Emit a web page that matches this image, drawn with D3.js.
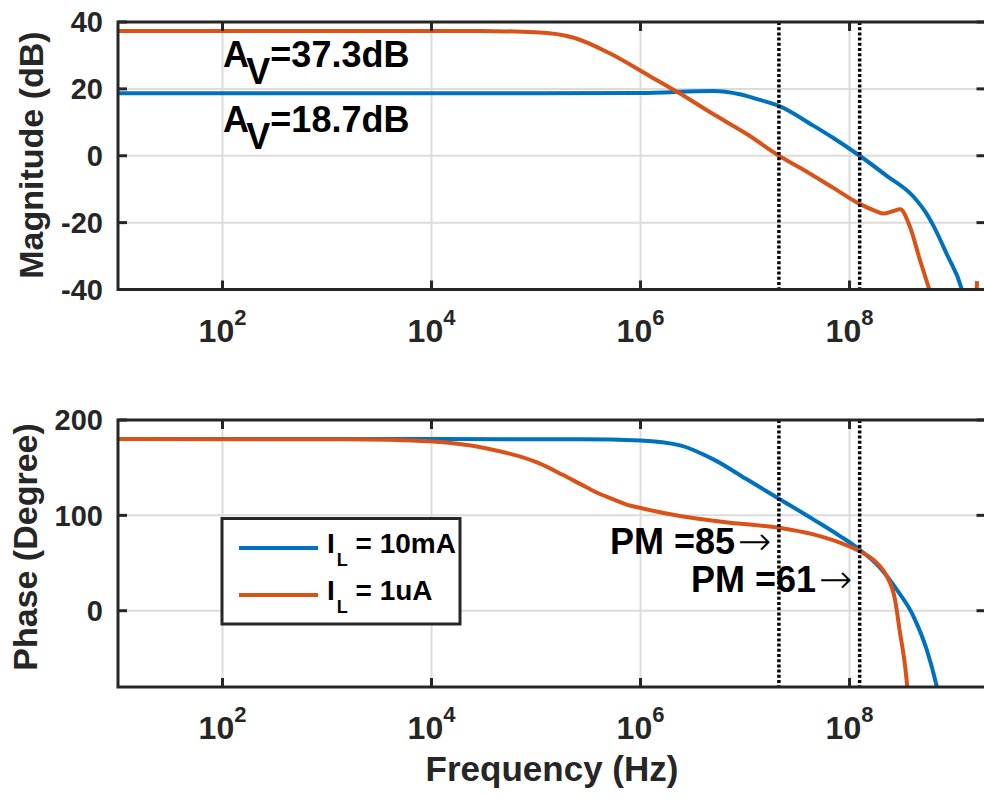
<!DOCTYPE html>
<html>
<head>
<meta charset="utf-8">
<script src="https://cdn.jsdelivr.net/npm/d3@7"></script>
<style>
  body { margin: 0; background: #fff; }
  text { font-family: Arial, "Liberation Sans", Helvetica, sans-serif; font-weight: bold; }
</style>
</head>
<body>
<div id="chart"></div>
<script>
// ---- data: [frequency (Hz), value] ----
var magBlue = [[10, 18.7], [1e3, 18.7], [1e5, 18.7], [1e6, 18.8], [4.94e6, 19.4], [8.95e6, 18.4],
  [1.39e7, 16.7], [2.11e7, 14.9], [4.5e7, 9.0], [7e7, 5.3], [1.25e8, 0], [2.27e8, -6.0],
  [4.08e8, -12.2], [5.47e8, -17.4], [6.34e8, -20.9], [8.51e8, -29.4], [1.19e9, -40.1], [1.5e9, -55]];
var magOrange = [[10, 37.3], [1e3, 37.3], [3e4, 37.3], [1e5, 36.9], [2.3e5, 35.3], [4.96e5, 30.8],
  [1.23e6, 23.8], [2.3e6, 18.9], [5e6, 12.4], [1.04e7, 6.5], [2.11e7, 0], [3.36e7, -3.6],
  [7e7, -9.6], [1.25e8, -14.4], [1.8e8, -16.6], [2.1e8, -17.3], [2.6e8, -16.6], [3.05e8, -16.0],
  [3.8e8, -21.4], [4.73e8, -31.3], [5.8e8, -40], [7e8, -48], [1.5e9, -60], [1.66e9, -37.5]];
var phaseBlue = [[10, 180], [1e4, 180], [2.64e5, 179.8], [1e6, 178.5], [2.39e6, 173.4],
  [4.98e6, 158.7], [1.04e7, 137.8], [2.11e7, 117.5], [4.5e7, 95.8], [8.1e7, 78.3],
  [1.24e8, 64.3], [1.96e8, 45], [2.82e8, 22.4], [4.08e8, -5.6], [5.47e8, -40.6], [6.82e8, -79], [7.5e8, -100]];
var phaseOrange = [[10, 180], [1.5e3, 179.8], [1.02e4, 177.4], [3.3e4, 170.4], [1.05e5, 155],
  [1.8e5, 142.5], [2.64e5, 133], [3.8e5, 124], [5.5e5, 116.8], [7.26e5, 111.6], [1.03e6, 107.5],
  [2.39e6, 99.3], [7.18e6, 92.3], [2.11e7, 87], [4.5e7, 80], [8.1e7, 71.3], [1.24e8, 62.6],
  [1.82e8, 50.3], [2.27e8, 36.4], [2.72e8, 12], [3.04e8, -23], [3.4e8, -58], [3.57e8, -80], [3.7e8, -100]];

var seriesLabels = [["I", "L", " = 10mA"], ["I", "L", " = 1uA"]];
var colors = ["#0072BD", "#D95319"];
var markerFreqs = [2.11e7, 1.25e8];
var xTickExp = [2, 4, 6, 8];
var magTicks = [40, 20, 0, -20, -40];
var phaseTicks = [200, 100, 0];
var gainNotes = [["A", "V", "=37.3dB"], ["A", "V", "=18.7dB"]];
var pmNotes = [["PM =85", "\u2192"], ["PM =61", "\u2192"]];

var width = 984, height = 798;
var axisCol = "#262626", gridCol = "#dcdcdc";

var svg = d3.select("#chart").append("svg").attr("width", width).attr("height", height);

var x = d3.scaleLog().domain([10, 2e9]).range([118, 985.5]);
var yMag = d3.scaleLinear().domain([-40, 40]).range([289.5, 22]);
var yPh = d3.scaleLinear().domain([-80, 200]).range([687, 420]);

function panel(y, ticks, id, curves) {
  var top = y.range()[1], bot = y.range()[0];
  var left = x.range()[0], right = x.range()[1];
  var g = svg.append("g");

  svg.append("clipPath").attr("id", id).append("rect")
    .attr("x", left).attr("y", top).attr("width", right - left).attr("height", bot - top);

  // grid
  g.selectAll(".gx").data(xTickExp).enter().append("line")
    .attr("x1", d => x(Math.pow(10, d))).attr("x2", d => x(Math.pow(10, d)))
    .attr("y1", top).attr("y2", bot)
    .attr("stroke", gridCol).attr("stroke-width", 2);
  g.selectAll(".gy").data(ticks).enter().append("line")
    .attr("x1", left).attr("x2", right).attr("y1", d => y(d)).attr("y2", d => y(d))
    .attr("stroke", gridCol).attr("stroke-width", 2);

  // curves
  var line = d3.line().x(d => x(d[0])).y(d => y(d[1])).curve(d3.curveMonotoneX);
  curves.forEach(function(c, i) {
    g.append("path").attr("d", line(c)).attr("fill", "none")
      .attr("stroke", colors[i]).attr("stroke-width", 4)
      .attr("clip-path", "url(#" + id + ")");
  });

  // dotted markers
  g.selectAll(".mk").data(markerFreqs).enter().append("line")
    .attr("x1", d => x(d)).attr("x2", d => x(d)).attr("y1", top).attr("y2", bot)
    .attr("stroke", "#000").attr("stroke-width", 3.5).attr("stroke-dasharray", "3,2.2");

  // ticks (inward)
  xTickExp.forEach(function(e) {
    var px = x(Math.pow(10, e));
    g.append("line").attr("x1", px).attr("x2", px).attr("y1", bot).attr("y2", bot - 9)
      .attr("stroke", axisCol).attr("stroke-width", 3);
    g.append("line").attr("x1", px).attr("x2", px).attr("y1", top).attr("y2", top + 9)
      .attr("stroke", axisCol).attr("stroke-width", 3);
  });
  ticks.forEach(function(t) {
    g.append("line").attr("x1", left).attr("x2", left + 9).attr("y1", y(t)).attr("y2", y(t))
      .attr("stroke", axisCol).attr("stroke-width", 3);
    g.append("line").attr("x1", right).attr("x2", right - 9).attr("y1", y(t)).attr("y2", y(t))
      .attr("stroke", axisCol).attr("stroke-width", 3);
    g.append("text").attr("x", 103).attr("y", y(t)).attr("dy", "0.36em")
      .attr("text-anchor", "end").attr("font-size", 29).attr("fill", axisCol).text(t);
  });

  // box
  g.append("rect").attr("x", left).attr("y", top).attr("width", right - left).attr("height", bot - top)
    .attr("fill", "none").attr("stroke", axisCol).attr("stroke-width", 3);

  // x tick labels 10^n
  xTickExp.forEach(function(e) {
    var t = g.append("text").attr("x", x(Math.pow(10, e))).attr("y", bot + 52)
      .attr("text-anchor", "middle").attr("font-size", 32).attr("fill", axisCol);
    t.append("tspan").text("10");
    t.append("tspan").attr("dy", -17).attr("font-size", 22).text(e);
  });
  return g;
}

panel(yMag, magTicks, "clipMag", [magBlue, magOrange]);
panel(yPh, phaseTicks, "clipPh", [phaseBlue, phaseOrange]);

// axis labels
svg.append("text").attr("transform", "translate(43,155) rotate(-90)")
  .attr("text-anchor", "middle").attr("font-size", 34).attr("fill", axisCol).text("Magnitude (dB)");
svg.append("text").attr("transform", "translate(37,547) rotate(-90)")
  .attr("text-anchor", "middle").attr("font-size", 34).attr("fill", axisCol).text("Phase (Degree)");
svg.append("text").attr("x", 552).attr("y", 781)
  .attr("text-anchor", "middle").attr("font-size", 35).attr("fill", axisCol).text("Frequency (Hz)");

// gain annotations
var gainPos = [[223, 67], [223, 131.5]];
gainNotes.forEach(function(n, i) {
  var t = svg.append("text").attr("x", gainPos[i][0]).attr("y", gainPos[i][1])
    .attr("font-size", 36).attr("fill", "#000");
  t.append("tspan").text(n[0]);
  t.append("tspan").attr("dy", 17).text(n[1]);
  t.append("tspan").attr("dy", -17).text(n[2]);
});

// phase margin annotations
var pmPos = [[610, 554], [691, 591.5]];
pmNotes.forEach(function(n, i) {
  var t = svg.append("text").attr("x", pmPos[i][0]).attr("y", pmPos[i][1])
    .attr("font-size", 36).attr("fill", "#000");
  t.append("tspan").text(n[0]);
  t.append("tspan").attr("font-weight", 200).attr("font-family", "DejaVu Sans")
    .attr("font-size", 40).attr("dx", 3).attr("dy", 1).text(n[1]);
});

// legend
var lg = svg.append("g");
lg.append("rect").attr("x", 222).attr("y", 518.5).attr("width", 238).attr("height", 105.5)
  .attr("fill", "#fff").attr("stroke", axisCol).attr("stroke-width", 3);
var legY = [548, 595];
seriesLabels.forEach(function(s, i) {
  lg.append("line").attr("x1", 239).attr("x2", 318).attr("y1", legY[i]).attr("y2", legY[i])
    .attr("stroke", colors[i]).attr("stroke-width", 4);
  var t = lg.append("text").attr("x", 327).attr("y", legY[i] + 4.5)
    .attr("font-size", 28).attr("fill", "#000");
  t.append("tspan").text(s[0]);
  t.append("tspan").attr("dy", 13).attr("dx", 2).attr("font-size", 18).text(s[1]);
  t.append("tspan").attr("dy", -13).text(s[2]);
});
</script>
</body>
</html>
